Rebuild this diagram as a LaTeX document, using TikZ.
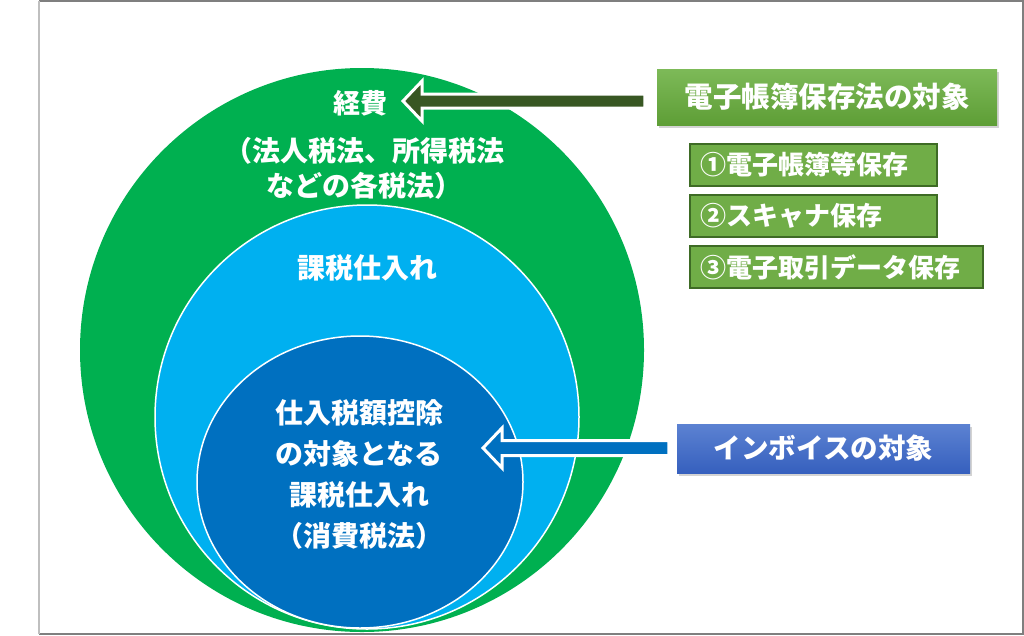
\documentclass[tikz,border=0pt]{standalone}
\usepackage{fontspec}
\setmainfont{Noto Sans CJK JP}
\usetikzlibrary{positioning,shadows}

\definecolor{outergreen}{HTML}{00B050}
\definecolor{lightblue}{HTML}{00B0F0}
\definecolor{darkblue}{HTML}{0070C0}
\definecolor{arrowgreen}{HTML}{385723}
\definecolor{itemgreen}{HTML}{70AD47}
\definecolor{itemborder}{HTML}{3E6B25}
\definecolor{framegray}{HTML}{7F7F7F}

\tikzset{
  circtext/.style={text=white, font=\bfseries\fontsize{28}{41}\selectfont, inner sep=0pt},
  titlebox/.style={minimum width=340pt, minimum height=56pt, text=white,
    top color={rgb,255:red,125;green,186;blue,88}, bottom color={rgb,255:red,94;green,158;blue,54},
    font=\bfseries\fontsize{28.5}{30}\selectfont, drop shadow={shadow xshift=2pt, shadow yshift=-3pt, opacity=0.35}},
  itembox/.style={draw=itemborder, line width=2pt, fill=itemgreen, text=white, align=left,
    inner xsep=10pt, minimum height=42pt, anchor=north west, font=\bfseries\fontsize{26}{28}\selectfont},
  invbox/.style={minimum width=293pt, minimum height=49pt, text=white,
    top color={rgb,255:red,92;green,130;blue,210}, bottom color={rgb,255:red,54;green,96;blue,190},
    font=\bfseries\fontsize{27.5}{30}\selectfont, drop shadow={shadow xshift=2pt, shadow yshift=-3pt, opacity=0.35}},
  bigarrow/.style={draw=white, line width=3pt, line join=miter}
}

\begin{document}
\begin{tikzpicture}[x=1pt, y=-1pt]
    \useasboundingbox (0,0) rectangle (1024,635);
    \draw[framegray, line width=1.5pt] (39,1) -- (1023,1) -- (1023,634) -- (39,634);
    \draw[black!25, line width=1.5pt] (39,1) -- (39,634);

    \fill[outergreen] (362,350) circle[radius=282pt];
    \filldraw[fill=lightblue, draw=white, line width=1.5pt] (367,417) circle[radius=212pt];
    \filldraw[fill=darkblue, draw=white, line width=1.5pt] (360,482) ellipse[x radius=163pt, y radius=146pt];

    \node[circtext, font=\bfseries\fontsize{27}{30}\selectfont] (keihi) at (360,103) {経費};
    \node[circtext, align=center, font=\bfseries\fontsize{28}{35}\selectfont] (hojin) at (364,168) {（法人税法、所得税法\\などの各税法）};
    \node[circtext] (kazei) at (367,268) {課税仕入れ};
    \node[circtext, align=center] (koujo) at (359,474) {仕入税額控除\\の対象となる\\課税仕入れ\\（消費税法）};

    \node[titlebox] (hozon) at (827,97) {電子帳簿保存法の対象};
    \node[itembox, text width=227pt] (denshi) at (689,143) {①電子帳簿等保存};
    \node[itembox, text width=227pt, below=7pt of denshi.south west, anchor=north west] (scan) {②スキャナ保存};
    \node[itembox, text width=273pt, below=7pt of scan.south west, anchor=north west] (torihiki) {③電子取引データ保存};
    \node[invbox] (invoice) at (823.5,448.5) {インボイスの対象};

    \coordinate (keihitip) at (403,101);
    \path (hozon.west |- keihitip) ++(-12,0) coordinate (keihitail);
    \coordinate (koujotip) at (483,448);
    \path (invoice.west |- koujotip) ++(-8,0) coordinate (koujotail);

    \draw[bigarrow, fill=arrowgreen] (keihitip) -- ++(19,-20) -- ++(0,13) -- ([yshift=7pt]keihitail) -- ([yshift=-7pt]keihitail) -- ([xshift=19pt,yshift=-7pt]keihitip) -- ([xshift=19pt,yshift=-20pt]keihitip) -- cycle;
    \draw[bigarrow, fill=darkblue] (koujotip) -- ++(19,-20) -- ++(0,12.5) -- ([yshift=7.5pt]koujotail) -- ([yshift=-7.5pt]koujotail) -- ([xshift=19pt,yshift=-7.5pt]koujotip) -- ([xshift=19pt,yshift=-20pt]koujotip) -- cycle;

\end{tikzpicture}
\end{document}
